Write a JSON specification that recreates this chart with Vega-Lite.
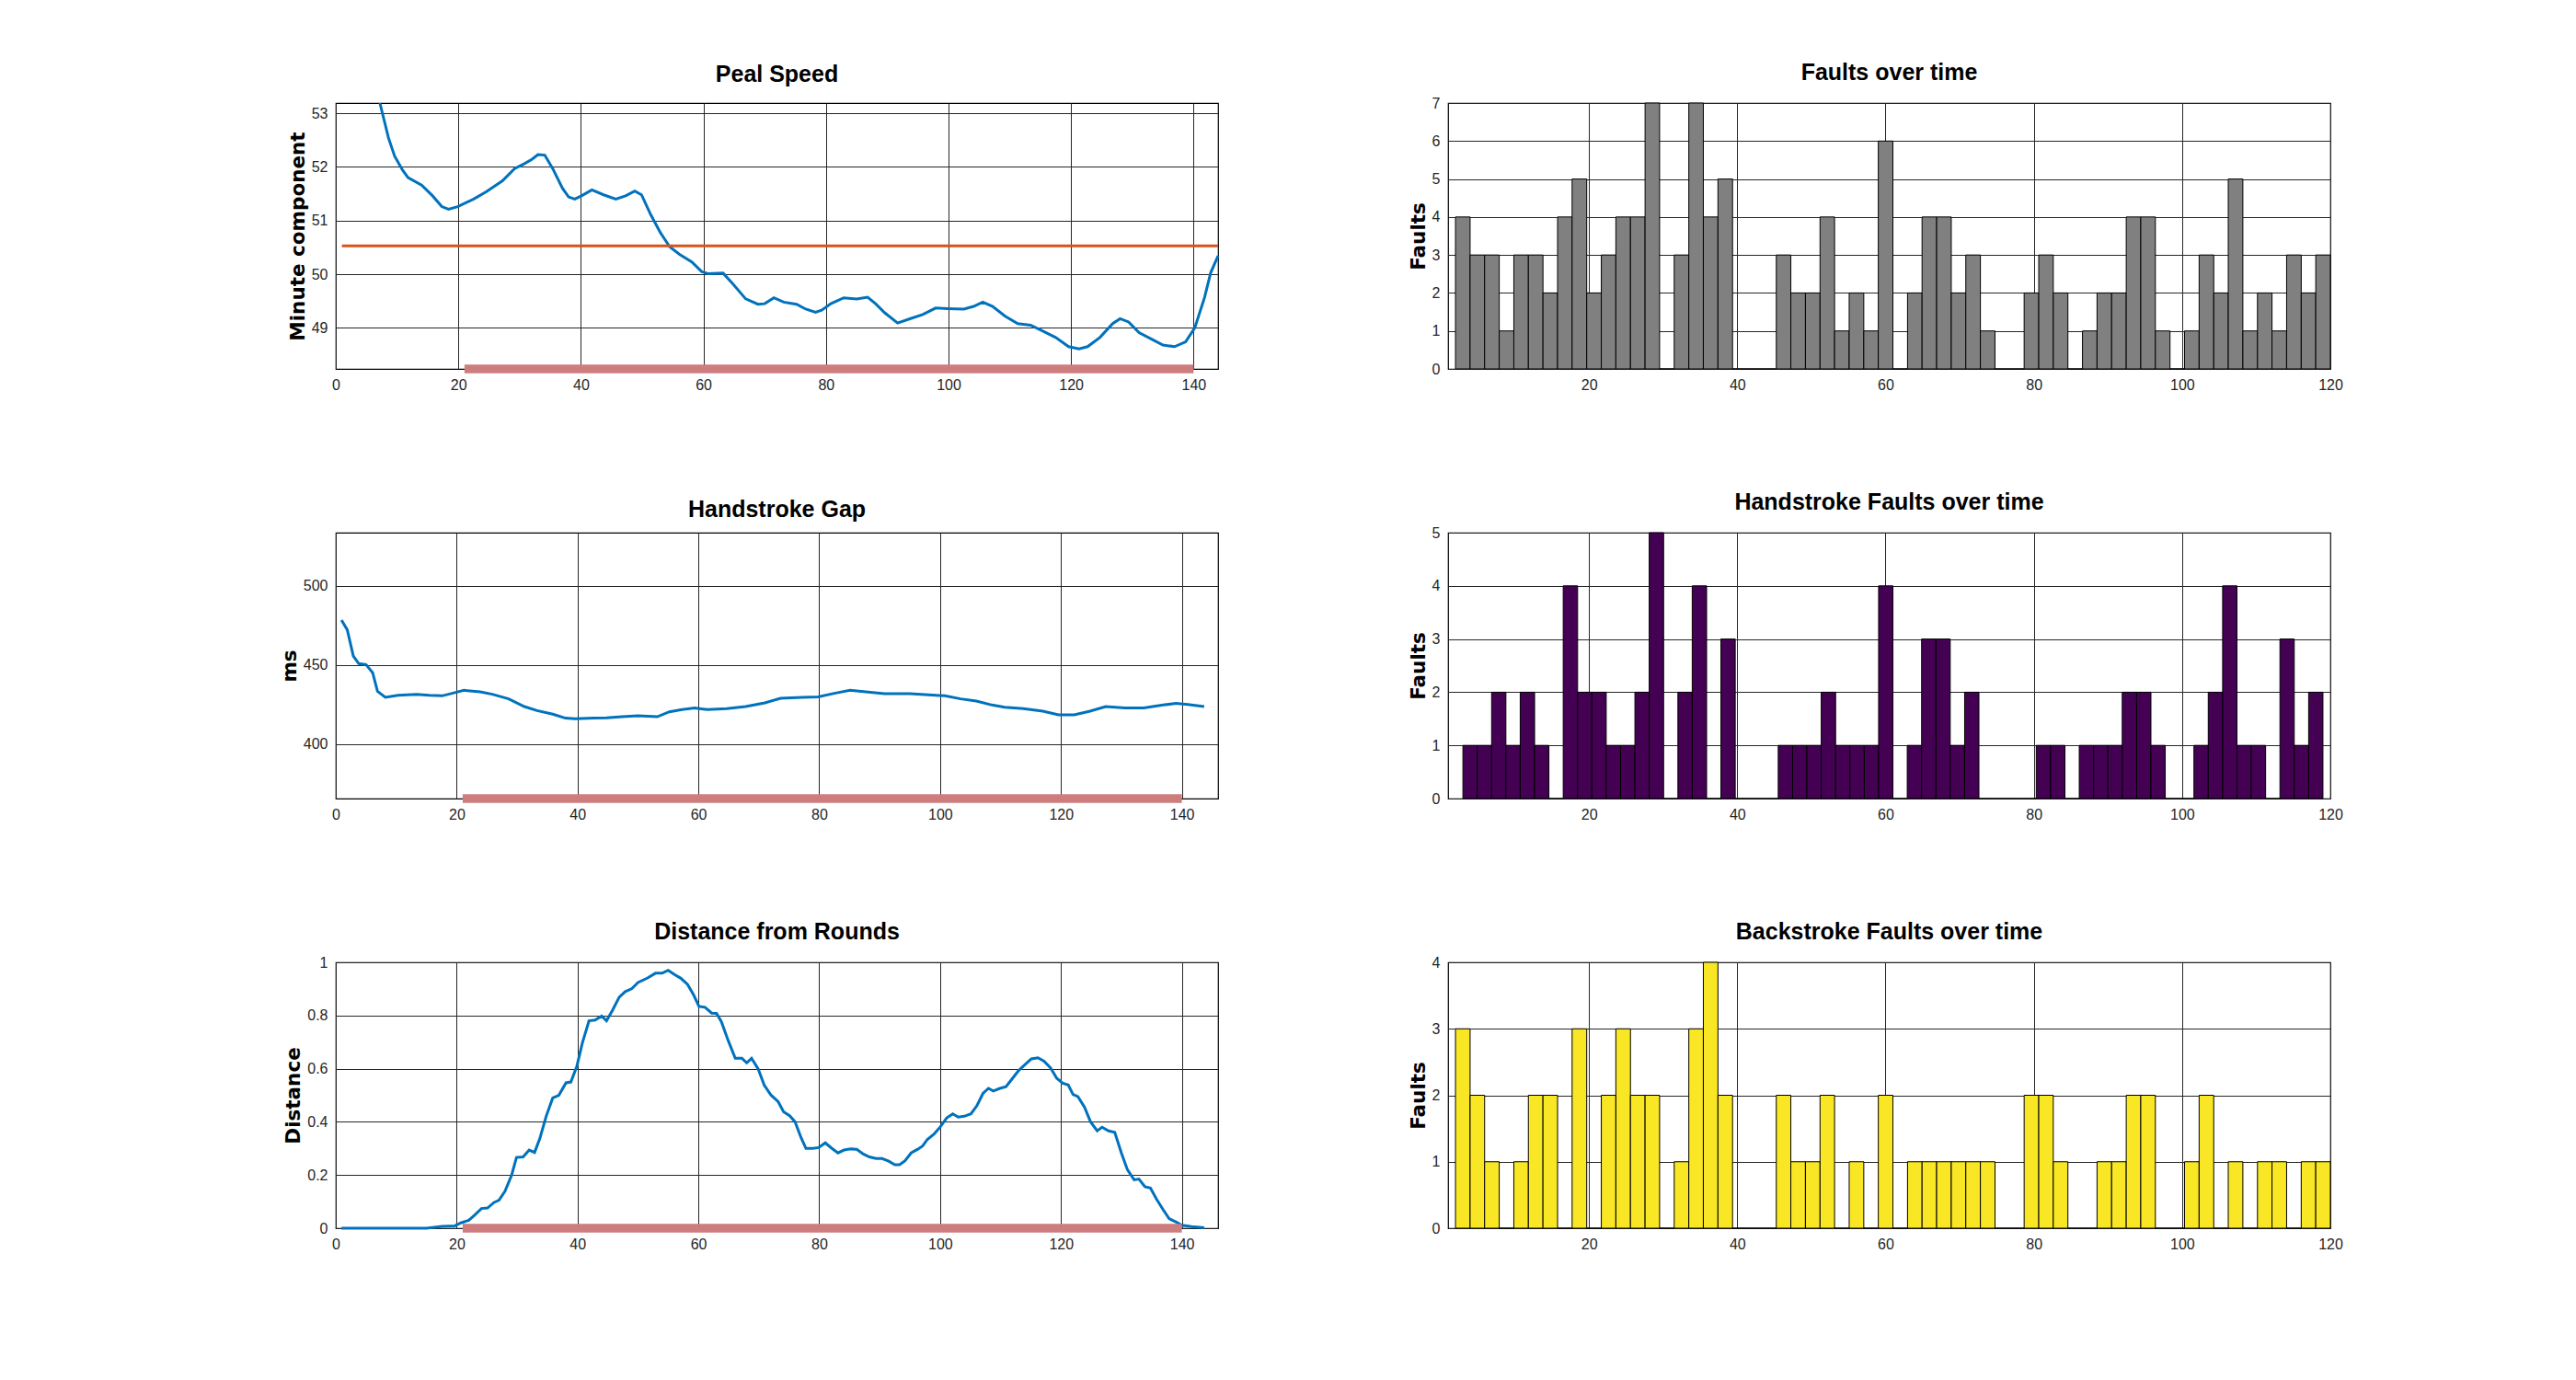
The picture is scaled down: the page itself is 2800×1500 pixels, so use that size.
{
  "$schema": "https://vega.github.io/schema/vega-lite/v6.json",
  "background": "white",
  "padding": {"left": 303, "top": 65, "right": 0, "bottom": 0},
  "columns": 2,
  "bounds": "flush",
  "spacing": {"column": 250, "row": 178},
  "datasets": {
    "speed": [
      {"t": 7.2, "v": 53.19},
      {"t": 8.6, "v": 52.54}, {"t": 9.6, "v": 52.2}, {"t": 10.9, "v": 51.94}, {"t": 11.8, "v": 51.8}, {"t": 14.0, "v": 51.66},
      {"t": 15.8, "v": 51.46}, {"t": 17.3, "v": 51.26}, {"t": 18.4, "v": 51.21}, {"t": 19.9, "v": 51.26}, {"t": 22.5, "v": 51.4},
      {"t": 24.6, "v": 51.54}, {"t": 27.2, "v": 51.74}, {"t": 29.2, "v": 51.97}, {"t": 30.8, "v": 52.06}, {"t": 32.0, "v": 52.14},
      {"t": 33.0, "v": 52.23}, {"t": 34.1, "v": 52.22}, {"t": 35.4, "v": 51.97}, {"t": 37.0, "v": 51.6}, {"t": 38.0, "v": 51.44},
      {"t": 39.0, "v": 51.4}, {"t": 40.1, "v": 51.46}, {"t": 41.8, "v": 51.57}, {"t": 43.7, "v": 51.48}, {"t": 45.7, "v": 51.4},
      {"t": 47.3, "v": 51.46}, {"t": 48.8, "v": 51.55}, {"t": 49.9, "v": 51.48}, {"t": 51.4, "v": 51.11}, {"t": 53.0, "v": 50.77},
      {"t": 54.5, "v": 50.51}, {"t": 56.1, "v": 50.37}, {"t": 58.1, "v": 50.23}, {"t": 59.7, "v": 50.05}, {"t": 60.7, "v": 50.01},
      {"t": 63.2, "v": 50.02}, {"t": 64.8, "v": 49.82}, {"t": 66.9, "v": 49.54}, {"t": 68.9, "v": 49.44}, {"t": 70.0, "v": 49.45},
      {"t": 71.5, "v": 49.56}, {"t": 73.1, "v": 49.48}, {"t": 75.2, "v": 49.44}, {"t": 76.7, "v": 49.35}, {"t": 78.3, "v": 49.29},
      {"t": 79.3, "v": 49.33}, {"t": 80.8, "v": 49.45}, {"t": 82.9, "v": 49.56}, {"t": 85.0, "v": 49.54}, {"t": 86.8, "v": 49.57},
      {"t": 88.1, "v": 49.45}, {"t": 89.6, "v": 49.28}, {"t": 91.7, "v": 49.09}, {"t": 93.7, "v": 49.17}, {"t": 95.8, "v": 49.25},
      {"t": 97.9, "v": 49.37}, {"t": 99.9, "v": 49.36}, {"t": 102.5, "v": 49.35}, {"t": 104.1, "v": 49.4}, {"t": 105.6, "v": 49.48},
      {"t": 107.2, "v": 49.4}, {"t": 109.2, "v": 49.22}, {"t": 111.3, "v": 49.08}, {"t": 113.4, "v": 49.05}, {"t": 115.4, "v": 48.94},
      {"t": 117.5, "v": 48.82}, {"t": 119.6, "v": 48.65}, {"t": 121.3, "v": 48.61}, {"t": 122.7, "v": 48.65}, {"t": 124.7, "v": 48.82},
      {"t": 126.8, "v": 49.08}, {"t": 128.0, "v": 49.17}, {"t": 129.4, "v": 49.11}, {"t": 131.1, "v": 48.91}, {"t": 133.0, "v": 48.8},
      {"t": 135.0, "v": 48.68}, {"t": 136.9, "v": 48.65}, {"t": 138.7, "v": 48.74}, {"t": 140.2, "v": 49.0}, {"t": 141.8, "v": 49.57},
      {"t": 142.8, "v": 50.03}, {"t": 144.0, "v": 50.34}
    ],
    "speedMean": [{"t": 1, "v": 50.53}, {"t": 144, "v": 50.53}],
    "gap": [
      {"t": 0.94, "v": 478.5}, {"t": 1.9, "v": 472.3}, {"t": 2.9, "v": 455.8}, {"t": 3.8, "v": 451}, {"t": 5.0, "v": 450.4},
      {"t": 6.1, "v": 445.2}, {"t": 6.9, "v": 433.5}, {"t": 8.2, "v": 429.7}, {"t": 10.3, "v": 431}, {"t": 13.4, "v": 431.6},
      {"t": 15.5, "v": 431}, {"t": 17.6, "v": 430.6}, {"t": 19.7, "v": 432.6}, {"t": 21.2, "v": 434.1}, {"t": 23.9, "v": 433.1},
      {"t": 25.9, "v": 431.6}, {"t": 28.6, "v": 428.7}, {"t": 31.2, "v": 423.8}, {"t": 33.3, "v": 421.3}, {"t": 35.9, "v": 419},
      {"t": 38.0, "v": 416.5}, {"t": 39.6, "v": 416.1}, {"t": 42.7, "v": 416.5}, {"t": 44.8, "v": 416.7}, {"t": 47.4, "v": 417.4},
      {"t": 50.0, "v": 418}, {"t": 53.2, "v": 417.4}, {"t": 55.2, "v": 420.5}, {"t": 57.3, "v": 421.9}, {"t": 59.4, "v": 422.9},
      {"t": 61.5, "v": 421.9}, {"t": 64.7, "v": 422.5}, {"t": 67.8, "v": 423.8}, {"t": 71.0, "v": 426.2}, {"t": 73.6, "v": 429.1},
      {"t": 77.2, "v": 429.7}, {"t": 79.8, "v": 430.0}, {"t": 82.5, "v": 432.2}, {"t": 85.1, "v": 434.1}, {"t": 87.7, "v": 433.1},
      {"t": 90.8, "v": 432}, {"t": 95.0, "v": 432}, {"t": 98.1, "v": 431.2}, {"t": 100.8, "v": 430.6}, {"t": 103.4, "v": 428.7},
      {"t": 106.0, "v": 427.3}, {"t": 108.6, "v": 424.8}, {"t": 110.7, "v": 423.4}, {"t": 113.8, "v": 422.5}, {"t": 117.0, "v": 420.9},
      {"t": 119.6, "v": 418.6}, {"t": 122.2, "v": 418.6}, {"t": 124.8, "v": 420.9}, {"t": 127.4, "v": 423.8}, {"t": 130.6, "v": 422.9},
      {"t": 133.7, "v": 422.9}, {"t": 136.9, "v": 424.8}, {"t": 139.0, "v": 425.8}, {"t": 141.0, "v": 425.2}, {"t": 143.7, "v": 423.8}
    ],
    "dist": [
      {"t": 0.94, "v": 0}, {"t": 15, "v": 0}, {"t": 17.6, "v": 0.007}, {"t": 19.7, "v": 0.009}, {"t": 20.7, "v": 0.02},
      {"t": 22.0, "v": 0.03}, {"t": 23.0, "v": 0.05}, {"t": 24.1, "v": 0.074}, {"t": 25.1, "v": 0.076}, {"t": 26.2, "v": 0.097},
      {"t": 27.0, "v": 0.105}, {"t": 28.0, "v": 0.139}, {"t": 29.1, "v": 0.2}, {"t": 29.9, "v": 0.266}, {"t": 31.0, "v": 0.268},
      {"t": 32.0, "v": 0.294}, {"t": 32.9, "v": 0.285}, {"t": 33.8, "v": 0.34}, {"t": 34.8, "v": 0.42}, {"t": 35.9, "v": 0.49},
      {"t": 36.9, "v": 0.5}, {"t": 38.1, "v": 0.547}, {"t": 38.9, "v": 0.55}, {"t": 39.9, "v": 0.61}, {"t": 40.8, "v": 0.697},
      {"t": 41.9, "v": 0.78}, {"t": 42.9, "v": 0.783}, {"t": 44.0, "v": 0.798}, {"t": 44.8, "v": 0.78}, {"t": 45.8, "v": 0.82},
      {"t": 46.9, "v": 0.869}, {"t": 47.9, "v": 0.89}, {"t": 49.0, "v": 0.901}, {"t": 50.0, "v": 0.924}, {"t": 51.6, "v": 0.941},
      {"t": 52.9, "v": 0.959}, {"t": 54.0, "v": 0.959}, {"t": 55.0, "v": 0.97}, {"t": 56.1, "v": 0.953}, {"t": 57.1, "v": 0.94},
      {"t": 58.2, "v": 0.917}, {"t": 59.2, "v": 0.878}, {"t": 60.1, "v": 0.834}, {"t": 61.1, "v": 0.831}, {"t": 62.2, "v": 0.809},
      {"t": 63.0, "v": 0.808}, {"t": 63.8, "v": 0.777}, {"t": 64.9, "v": 0.708}, {"t": 66.1, "v": 0.639}, {"t": 67.2, "v": 0.639},
      {"t": 68.0, "v": 0.622}, {"t": 68.8, "v": 0.639}, {"t": 69.9, "v": 0.599}, {"t": 70.9, "v": 0.538}, {"t": 72.0, "v": 0.501},
      {"t": 73.2, "v": 0.476}, {"t": 74.1, "v": 0.438}, {"t": 75.1, "v": 0.423}, {"t": 76.0, "v": 0.4}, {"t": 77.0, "v": 0.34},
      {"t": 77.8, "v": 0.3}, {"t": 78.9, "v": 0.3}, {"t": 79.9, "v": 0.303}, {"t": 81.0, "v": 0.321}, {"t": 82.0, "v": 0.302},
      {"t": 83.1, "v": 0.283}, {"t": 84.1, "v": 0.294}, {"t": 85.2, "v": 0.298}, {"t": 86.2, "v": 0.297}, {"t": 87.3, "v": 0.279},
      {"t": 88.3, "v": 0.268}, {"t": 89.4, "v": 0.262}, {"t": 90.4, "v": 0.262}, {"t": 91.5, "v": 0.252}, {"t": 92.5, "v": 0.239},
      {"t": 93.3, "v": 0.239}, {"t": 94.2, "v": 0.254}, {"t": 95.2, "v": 0.283}, {"t": 96.3, "v": 0.297}, {"t": 97.1, "v": 0.309},
      {"t": 97.9, "v": 0.334}, {"t": 99.0, "v": 0.354}, {"t": 100.0, "v": 0.38}, {"t": 101.1, "v": 0.415}, {"t": 102.1, "v": 0.43},
      {"t": 103.0, "v": 0.418}, {"t": 104.0, "v": 0.421}, {"t": 105.1, "v": 0.43}, {"t": 106.1, "v": 0.461}, {"t": 107.1, "v": 0.507},
      {"t": 108.0, "v": 0.526}, {"t": 108.8, "v": 0.516}, {"t": 109.9, "v": 0.526}, {"t": 110.9, "v": 0.532}, {"t": 112.0, "v": 0.564},
      {"t": 113.0, "v": 0.593}, {"t": 114.1, "v": 0.616}, {"t": 115.1, "v": 0.637}, {"t": 116.2, "v": 0.641}, {"t": 117.2, "v": 0.628},
      {"t": 118.3, "v": 0.602}, {"t": 119.3, "v": 0.564}, {"t": 120.3, "v": 0.545}, {"t": 121.2, "v": 0.539}, {"t": 122.0, "v": 0.503},
      {"t": 122.8, "v": 0.495}, {"t": 123.9, "v": 0.455}, {"t": 124.9, "v": 0.4}, {"t": 126.0, "v": 0.366}, {"t": 126.8, "v": 0.38},
      {"t": 127.9, "v": 0.366}, {"t": 128.9, "v": 0.361}, {"t": 130.0, "v": 0.283}, {"t": 131.0, "v": 0.22}, {"t": 132.1, "v": 0.182},
      {"t": 132.9, "v": 0.185}, {"t": 133.9, "v": 0.156}, {"t": 134.8, "v": 0.151}, {"t": 135.8, "v": 0.11}, {"t": 136.9, "v": 0.07},
      {"t": 137.9, "v": 0.036}, {"t": 139.0, "v": 0.024}, {"t": 140.0, "v": 0.011}, {"t": 141.6, "v": 0.006}, {"t": 143.7, "v": 0.002}
    ],
    "window": [{"from": 21, "to": 140}],
    "total": [
      {"a": 2.00, "b": 3.97, "n": 4}, {"a": 3.97, "b": 5.93, "n": 3}, {"a": 5.93, "b": 7.90, "n": 3}, {"a": 7.90, "b": 9.87, "n": 1},
      {"a": 9.87, "b": 11.83, "n": 3}, {"a": 11.83, "b": 13.80, "n": 3}, {"a": 13.80, "b": 15.77, "n": 2}, {"a": 15.77, "b": 17.73, "n": 4},
      {"a": 17.73, "b": 19.70, "n": 5}, {"a": 19.70, "b": 21.67, "n": 2}, {"a": 21.67, "b": 23.63, "n": 3}, {"a": 23.63, "b": 25.60, "n": 4},
      {"a": 25.60, "b": 27.57, "n": 4}, {"a": 27.57, "b": 29.53, "n": 7}, {"a": 29.53, "b": 31.50, "n": 0}, {"a": 31.50, "b": 33.47, "n": 3},
      {"a": 33.47, "b": 35.43, "n": 7}, {"a": 35.43, "b": 37.40, "n": 4}, {"a": 37.40, "b": 39.37, "n": 5}, {"a": 39.37, "b": 41.33, "n": 0},
      {"a": 41.33, "b": 43.30, "n": 0}, {"a": 43.30, "b": 45.27, "n": 0}, {"a": 45.27, "b": 47.23, "n": 3}, {"a": 47.23, "b": 49.20, "n": 2},
      {"a": 49.20, "b": 51.17, "n": 2}, {"a": 51.17, "b": 53.13, "n": 4}, {"a": 53.13, "b": 55.10, "n": 1}, {"a": 55.10, "b": 57.07, "n": 2},
      {"a": 57.07, "b": 59.03, "n": 1}, {"a": 59.03, "b": 61.00, "n": 6}, {"a": 61.00, "b": 62.97, "n": 0}, {"a": 62.97, "b": 64.93, "n": 2},
      {"a": 64.93, "b": 66.90, "n": 4}, {"a": 66.90, "b": 68.87, "n": 4}, {"a": 68.87, "b": 70.83, "n": 2}, {"a": 70.83, "b": 72.80, "n": 3},
      {"a": 72.80, "b": 74.77, "n": 1}, {"a": 74.77, "b": 76.73, "n": 0}, {"a": 76.73, "b": 78.70, "n": 0}, {"a": 78.70, "b": 80.67, "n": 2},
      {"a": 80.67, "b": 82.63, "n": 3}, {"a": 82.63, "b": 84.60, "n": 2}, {"a": 84.60, "b": 86.57, "n": 0}, {"a": 86.57, "b": 88.53, "n": 1},
      {"a": 88.53, "b": 90.50, "n": 2}, {"a": 90.50, "b": 92.47, "n": 2}, {"a": 92.47, "b": 94.43, "n": 4}, {"a": 94.43, "b": 96.40, "n": 4},
      {"a": 96.40, "b": 98.37, "n": 1}, {"a": 98.37, "b": 100.33, "n": 0}, {"a": 100.33, "b": 102.30, "n": 1}, {"a": 102.30, "b": 104.27, "n": 3},
      {"a": 104.27, "b": 106.23, "n": 2}, {"a": 106.23, "b": 108.20, "n": 5}, {"a": 108.20, "b": 110.17, "n": 1}, {"a": 110.17, "b": 112.13, "n": 2},
      {"a": 112.13, "b": 114.10, "n": 1}, {"a": 114.10, "b": 116.07, "n": 3}, {"a": 116.07, "b": 118.03, "n": 2}, {"a": 118.03, "b": 120.00, "n": 3}
    ],
    "hand": [
      {"a": 3.00, "b": 4.93, "n": 1}, {"a": 4.93, "b": 6.87, "n": 1}, {"a": 6.87, "b": 8.80, "n": 2}, {"a": 8.80, "b": 10.73, "n": 1},
      {"a": 10.73, "b": 12.67, "n": 2}, {"a": 12.67, "b": 14.60, "n": 1}, {"a": 14.60, "b": 16.53, "n": 0}, {"a": 16.53, "b": 18.47, "n": 4},
      {"a": 18.47, "b": 20.40, "n": 2}, {"a": 20.40, "b": 22.33, "n": 2}, {"a": 22.33, "b": 24.27, "n": 1}, {"a": 24.27, "b": 26.20, "n": 1},
      {"a": 26.20, "b": 28.13, "n": 2}, {"a": 28.13, "b": 30.07, "n": 5}, {"a": 30.07, "b": 32.00, "n": 0}, {"a": 32.00, "b": 33.93, "n": 2},
      {"a": 33.93, "b": 35.87, "n": 4}, {"a": 35.87, "b": 37.80, "n": 0}, {"a": 37.80, "b": 39.73, "n": 3}, {"a": 39.73, "b": 41.67, "n": 0},
      {"a": 41.67, "b": 43.60, "n": 0}, {"a": 43.60, "b": 45.53, "n": 0}, {"a": 45.53, "b": 47.47, "n": 1}, {"a": 47.47, "b": 49.40, "n": 1},
      {"a": 49.40, "b": 51.33, "n": 1}, {"a": 51.33, "b": 53.27, "n": 2}, {"a": 53.27, "b": 55.20, "n": 1}, {"a": 55.20, "b": 57.13, "n": 1},
      {"a": 57.13, "b": 59.07, "n": 1}, {"a": 59.07, "b": 61.00, "n": 4}, {"a": 61.00, "b": 62.93, "n": 0}, {"a": 62.93, "b": 64.87, "n": 1},
      {"a": 64.87, "b": 66.80, "n": 3}, {"a": 66.80, "b": 68.73, "n": 3}, {"a": 68.73, "b": 70.67, "n": 1}, {"a": 70.67, "b": 72.60, "n": 2},
      {"a": 72.60, "b": 74.53, "n": 0}, {"a": 74.53, "b": 76.47, "n": 0}, {"a": 76.47, "b": 78.40, "n": 0}, {"a": 78.40, "b": 80.33, "n": 0},
      {"a": 80.33, "b": 82.27, "n": 1}, {"a": 82.27, "b": 84.20, "n": 1}, {"a": 84.20, "b": 86.13, "n": 0}, {"a": 86.13, "b": 88.07, "n": 1},
      {"a": 88.07, "b": 90.00, "n": 1}, {"a": 90.00, "b": 91.93, "n": 1}, {"a": 91.93, "b": 93.87, "n": 2}, {"a": 93.87, "b": 95.80, "n": 2},
      {"a": 95.80, "b": 97.73, "n": 1}, {"a": 97.73, "b": 99.67, "n": 0}, {"a": 99.67, "b": 101.60, "n": 0}, {"a": 101.60, "b": 103.53, "n": 1},
      {"a": 103.53, "b": 105.47, "n": 2}, {"a": 105.47, "b": 107.40, "n": 4}, {"a": 107.40, "b": 109.33, "n": 1}, {"a": 109.33, "b": 111.27, "n": 1},
      {"a": 111.27, "b": 113.20, "n": 0}, {"a": 113.20, "b": 115.13, "n": 3}, {"a": 115.13, "b": 117.07, "n": 1}, {"a": 117.07, "b": 119.00, "n": 2}
    ],
    "back": [
      {"a": 2.00, "b": 3.97, "n": 3}, {"a": 3.97, "b": 5.93, "n": 2}, {"a": 5.93, "b": 7.90, "n": 1}, {"a": 7.90, "b": 9.87, "n": 0},
      {"a": 9.87, "b": 11.83, "n": 1}, {"a": 11.83, "b": 13.80, "n": 2}, {"a": 13.80, "b": 15.77, "n": 2}, {"a": 15.77, "b": 17.73, "n": 0},
      {"a": 17.73, "b": 19.70, "n": 3}, {"a": 19.70, "b": 21.67, "n": 0}, {"a": 21.67, "b": 23.63, "n": 2}, {"a": 23.63, "b": 25.60, "n": 3},
      {"a": 25.60, "b": 27.57, "n": 2}, {"a": 27.57, "b": 29.53, "n": 2}, {"a": 29.53, "b": 31.50, "n": 0}, {"a": 31.50, "b": 33.47, "n": 1},
      {"a": 33.47, "b": 35.43, "n": 3}, {"a": 35.43, "b": 37.40, "n": 4}, {"a": 37.40, "b": 39.37, "n": 2}, {"a": 39.37, "b": 41.33, "n": 0},
      {"a": 41.33, "b": 43.30, "n": 0}, {"a": 43.30, "b": 45.27, "n": 0}, {"a": 45.27, "b": 47.23, "n": 2}, {"a": 47.23, "b": 49.20, "n": 1},
      {"a": 49.20, "b": 51.17, "n": 1}, {"a": 51.17, "b": 53.13, "n": 2}, {"a": 53.13, "b": 55.10, "n": 0}, {"a": 55.10, "b": 57.07, "n": 1},
      {"a": 57.07, "b": 59.03, "n": 0}, {"a": 59.03, "b": 61.00, "n": 2}, {"a": 61.00, "b": 62.97, "n": 0}, {"a": 62.97, "b": 64.93, "n": 1},
      {"a": 64.93, "b": 66.90, "n": 1}, {"a": 66.90, "b": 68.87, "n": 1}, {"a": 68.87, "b": 70.83, "n": 1}, {"a": 70.83, "b": 72.80, "n": 1},
      {"a": 72.80, "b": 74.77, "n": 1}, {"a": 74.77, "b": 76.73, "n": 0}, {"a": 76.73, "b": 78.70, "n": 0}, {"a": 78.70, "b": 80.67, "n": 2},
      {"a": 80.67, "b": 82.63, "n": 2}, {"a": 82.63, "b": 84.60, "n": 1}, {"a": 84.60, "b": 86.57, "n": 0}, {"a": 86.57, "b": 88.53, "n": 0},
      {"a": 88.53, "b": 90.50, "n": 1}, {"a": 90.50, "b": 92.47, "n": 1}, {"a": 92.47, "b": 94.43, "n": 2}, {"a": 94.43, "b": 96.40, "n": 2},
      {"a": 96.40, "b": 98.37, "n": 0}, {"a": 98.37, "b": 100.33, "n": 0}, {"a": 100.33, "b": 102.30, "n": 1}, {"a": 102.30, "b": 104.27, "n": 2},
      {"a": 104.27, "b": 106.23, "n": 0}, {"a": 106.23, "b": 108.20, "n": 1}, {"a": 108.20, "b": 110.17, "n": 0}, {"a": 110.17, "b": 112.13, "n": 1},
      {"a": 112.13, "b": 114.10, "n": 1}, {"a": 114.10, "b": 116.07, "n": 0}, {"a": 116.07, "b": 118.03, "n": 1}, {"a": 118.03, "b": 120.00, "n": 1}
    ]
  },
  "concat": [
    {
      "title": "Peal Speed",
      "width": 959,
      "height": 289,
      "layer": [
        {
          "data": {"name": "speed"},
          "mark": {"type": "line", "color": "#0072bd", "strokeWidth": 3},
          "encoding": {
            "x": {"field": "t", "type": "quantitative", "scale": {"domain": [0, 144], "nice": false}, "axis": {"values": [0, 20, 40, 60, 80, 100, 120, 140], "title": null}},
            "y": {"field": "v", "type": "quantitative", "scale": {"domain": [48.235, 53.19], "nice": false, "zero": false}, "axis": {"values": [49, 50, 51, 52, 53], "format": "d", "title": "Minute component"}}
          }
        },
        {
          "data": {"name": "speedMean"},
          "mark": {"type": "line", "color": "#d95319", "strokeWidth": 3},
          "encoding": {
            "x": {"field": "t", "type": "quantitative"},
            "y": {"field": "v", "type": "quantitative"}
          }
        },
        {
          "data": {"name": "window"},
          "mark": {"type": "rule", "color": "#cd7d7d", "strokeWidth": 9.5},
          "encoding": {
            "x": {"field": "from", "type": "quantitative"},
            "x2": {"field": "to"},
            "y": {"datum": 48.235}
          }
        }
      ]
    },
    {
      "title": "Faults over time",
      "width": 959,
      "height": 289,
      "data": {"name": "total"},
      "mark": {"type": "rect", "color": "#808080", "stroke": "black", "strokeWidth": 1},
      "encoding": {
        "x": {"field": "a", "type": "quantitative", "scale": {"domain": [1, 120], "nice": false}, "axis": {"values": [20, 40, 60, 80, 100, 120], "title": null}},
        "x2": {"field": "b"},
        "y": {"field": "n", "type": "quantitative", "scale": {"domain": [0, 7], "nice": false}, "axis": {"values": [0, 1, 2, 3, 4, 5, 6, 7], "title": "Faults"}},
        "y2": {"datum": 0}
      }
    },
    {
      "title": "Handstroke Gap",
      "width": 959,
      "height": 289,
      "layer": [
        {
          "data": {"name": "gap"},
          "mark": {"type": "line", "color": "#0072bd", "strokeWidth": 3},
          "encoding": {
            "x": {"field": "t", "type": "quantitative", "scale": {"domain": [0, 146], "nice": false}, "axis": {"values": [0, 20, 40, 60, 80, 100, 120, 140], "title": null}},
            "y": {"field": "v", "type": "quantitative", "scale": {"domain": [365.7, 533.7], "nice": false, "zero": false}, "axis": {"values": [400, 450, 500], "title": "ms"}}
          }
        },
        {
          "data": {"name": "window"},
          "mark": {"type": "rule", "color": "#cd7d7d", "strokeWidth": 9.5},
          "encoding": {
            "x": {"field": "from", "type": "quantitative"},
            "x2": {"field": "to"},
            "y": {"datum": 365.7}
          }
        }
      ]
    },
    {
      "title": "Handstroke Faults over time",
      "width": 959,
      "height": 289,
      "data": {"name": "hand"},
      "mark": {"type": "rect", "color": "#440154", "stroke": "black", "strokeWidth": 1},
      "encoding": {
        "x": {"field": "a", "type": "quantitative", "scale": {"domain": [1, 120], "nice": false}, "axis": {"values": [20, 40, 60, 80, 100, 120], "title": null}},
        "x2": {"field": "b"},
        "y": {"field": "n", "type": "quantitative", "scale": {"domain": [0, 5], "nice": false}, "axis": {"values": [0, 1, 2, 3, 4, 5], "title": "Faults"}},
        "y2": {"datum": 0}
      }
    },
    {
      "title": "Distance from Rounds",
      "width": 959,
      "height": 289,
      "layer": [
        {
          "data": {"name": "dist"},
          "mark": {"type": "line", "color": "#0072bd", "strokeWidth": 3},
          "encoding": {
            "x": {"field": "t", "type": "quantitative", "scale": {"domain": [0, 146], "nice": false}, "axis": {"values": [0, 20, 40, 60, 80, 100, 120, 140], "title": null}},
            "y": {"field": "v", "type": "quantitative", "scale": {"domain": [0, 1], "nice": false}, "axis": {"values": [0, 0.2, 0.4, 0.6, 0.8, 1], "format": "~g", "title": "Distance"}}
          }
        },
        {
          "data": {"name": "window"},
          "mark": {"type": "rule", "color": "#cd7d7d", "strokeWidth": 9.5},
          "encoding": {
            "x": {"field": "from", "type": "quantitative"},
            "x2": {"field": "to"},
            "y": {"datum": 0}
          }
        }
      ]
    },
    {
      "title": "Backstroke Faults over time",
      "width": 959,
      "height": 289,
      "data": {"name": "back"},
      "mark": {"type": "rect", "color": "#f9e625", "stroke": "black", "strokeWidth": 1},
      "encoding": {
        "x": {"field": "a", "type": "quantitative", "scale": {"domain": [1, 120], "nice": false}, "axis": {"values": [20, 40, 60, 80, 100, 120], "title": null}},
        "x2": {"field": "b"},
        "y": {"field": "n", "type": "quantitative", "scale": {"domain": [0, 4], "nice": false}, "axis": {"values": [0, 1, 2, 3, 4], "title": "Faults"}},
        "y2": {"datum": 0}
      }
    }
  ],
  "config": {
    "view": {"stroke": "black", "strokeWidth": 1.2},
    "title": {"font": "Liberation Sans", "fontSize": 25, "fontWeight": "bold", "color": "black", "anchor": "middle", "frame": "group", "offset": 12.5},
    "axis": {
      "domain": false,
      "ticks": false,
      "grid": true,
      "gridColor": "#262626",
      "gridWidth": 1,
      "gridOpacity": 1,
      "labelFont": "Liberation Sans",
      "labelFontSize": 16,
      "labelColor": "#262626",
      "labelPadding": 9,
      "labelFlush": false,
      "labelOverlap": false,
      "titleFont": "DejaVu Sans",
      "titleFontSize": 21.5,
      "titleFontWeight": "bold",
      "titleColor": "black",
      "titlePadding": 3
    }
  }
}
